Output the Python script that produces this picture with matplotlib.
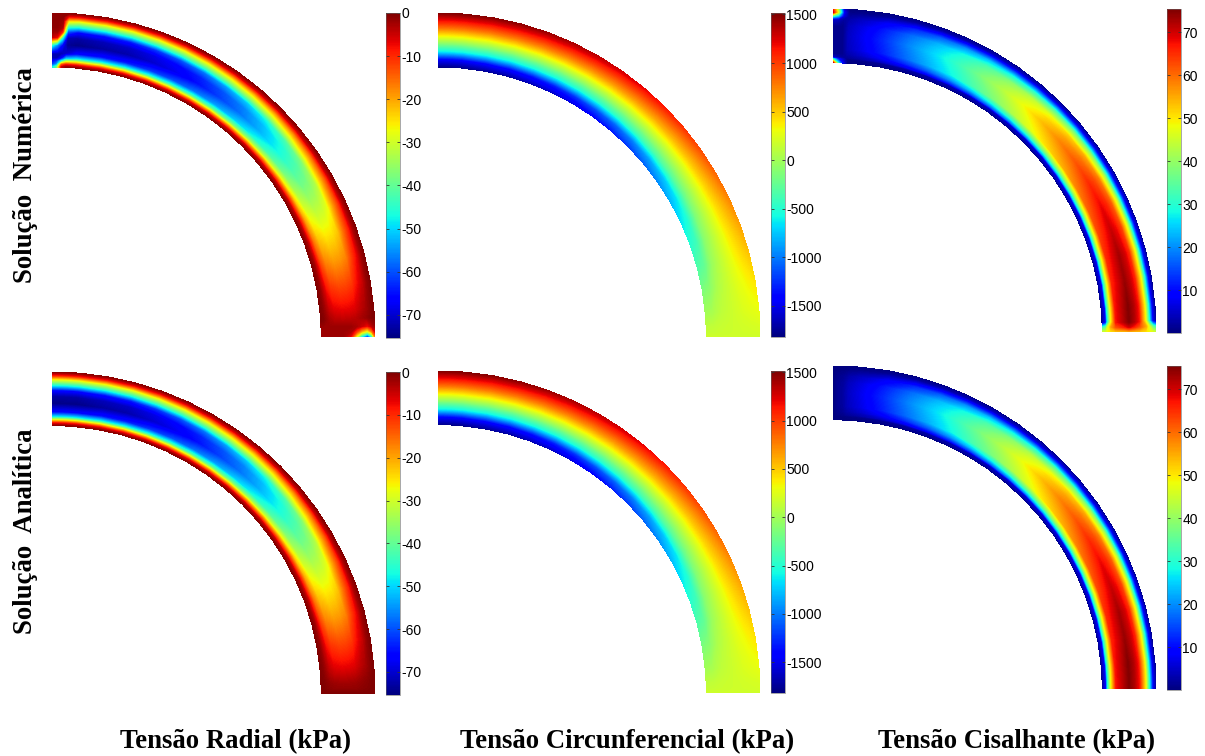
import numpy as np
import matplotlib
matplotlib.use('Agg')
import matplotlib.pyplot as plt
from matplotlib.cm import ScalarMappable
from matplotlib.colors import Normalize

# angle along the ring (deg), 0 = bottom end, 90 = top end
angles = [0, 1, 2, 3.5, 5, 10, 15, 20, 25, 30, 35, 40, 45, 50, 55, 60, 65, 70, 75, 80, 85, 87, 88, 89, 90]
rise = [0, .02, .03, .06, .09, .17, .26, .34, .42, .5, .57, .64, .71, .77, .82, .87, .91, .94, .97, .98, 1, 1, 1, 1, 1]
fall = rise[::-1]

# position across the wall, 0 = inner edge, 1 = outer edge
radial_pos = [0, .05, .106, .16, .25, .41, .55, .66, .75, .86, .94, 1]
radial_vals = [-1, -9, -28, -48, -66, -75, -73, -66, -48, -28, -9, -1]

circ_pos = [0, .14, .29, .43, .575, .72, .86, 1]
circ_end = [170, 170, 170, 170, 170, 170, 170, 170]
circ_vals = [-1800, -1450, -620, -150, 314, 780, 1150, 1500]

shear_pos = [0, .07, .1, .167, .26, .41, .5, .6, .69, .81, .88, .94, 1]
shear_vals = [1, 8, 27, 48, 67, 72, 75, 72, 67, 48, 27, 8, 1]

# numerical solution, rows that differ at the ends of the ring
num_radial_a0 = [-2, -2, -2, -2, -2, -2, -8, -30, -50, -68, -50, -20]
num_radial_a1 = [-2, -2, -2, -2, -2, -2, -3, -12, -22, -30, -18, -6]
num_radial_a2 = [-2, -2, -2, -2, -2, -2, -2, -3, -5, -8, -4, -2]
num_radial_a87 = [-1, -9, -30, -52, -70, -74, -72, -60, -45, -25, -8, -1]
num_radial_a88 = [-5, -15, -45, -66, -72, -66, -45, -10, -3, -2, -1, -1]
num_radial_a89 = [-40, -55, -62, -72, -72, -55, -8, -2, -1, -1, -1, -1]
num_radial_a90 = [-50, -62, -66, -72, -72, -45, -5, -2, -1, -1, -1, -1]

num_shear_a0 = [44, 46, 48, 50, 52, 52, 53, 52, 52, 50, 48, 46, 44]
num_shear_a1 = [30, 35, 45, 55, 62, 66, 70, 66, 62, 55, 45, 35, 30]
num_shear_a88 = [8, 5, 2, 1, 1, 1, 1, 1, 1, 2, 6, 8, 5]
num_shear_a89 = [30, 12, 3, 1, 1, 1, 1, 1, 1, 4, 25, 45, 40]
num_shear_a90 = [70, 30, 5, 1, 1, 1, 1, 1, 1, 5, 35, 70, 65]

# colour ranges and colorbar ticks
radial_range = (-75.4, 0)
circ_range = (-1820, 1515)
shear_range = (0, 75.4)
radial_ticks = [0, -10, -20, -30, -40, -50, -60, -70]
circ_ticks = [1500, 1000, 500, 0, -500, -1000, -1500]
shear_ticks = [70, 60, 50, 40, 30, 20, 10]

col_titles = ['Tensão Radial (kPa)', 'Tensão Circunferencial (kPa)', 'Tensão Cisalhante (kPa)']
row_titles = ['Solução  Numérica', 'Solução  Analítica']

W, H = 1205, 756
plt.rcParams['font.family'] = ['Liberation Sans', 'DejaVu Sans']
plt.rcParams['axes.unicode_minus'] = False
fig = plt.figure(figsize=(W / 100, H / 100), dpi=100)


def box(x0, y0, x1, y1):
    return fig.add_axes([x0 / W, 1 - y1 / H, (x1 - x0) / W, (y1 - y0) / H])


def panel(field, pos, vrange, ticks, ring_box, bar_box):
    ax = box(*ring_box)
    th = np.radians(angles)
    rr = 5 + np.array(pos)
    X = np.outer(rr, np.cos(th))
    Y = np.outer(rr, np.sin(th))
    levels = np.linspace(vrange[0], vrange[1], 256)
    ax.contourf(X, Y, field, levels=levels, cmap='jet', extend='both')
    ax.set_xlim(0, 6)
    ax.set_ylim(0, 6)
    ax.axis('off')

    cax = box(*bar_box)
    sm = ScalarMappable(Normalize(vrange[0], vrange[1]), 'jet')
    cbar = fig.colorbar(sm, cax=cax)
    cbar.set_ticks(ticks)
    cbar.ax.tick_params(direction='in', left=True, right=True, length=2.5, width=.6,
                        labelsize=10, pad=1, color='#333333')
    cbar.outline.set_linewidth(.4)
    cbar.outline.set_edgecolor('#666666')


radial_field = np.outer(radial_vals, rise)
circ_field = np.array(circ_end)[:, None] + np.outer(np.array(circ_vals) - np.array(circ_end), rise)
shear_field = np.outer(shear_vals, fall)

num_radial = radial_field.copy()
num_radial[:, 0] = num_radial_a0
num_radial[:, 1] = num_radial_a1
num_radial[:, 2] = num_radial_a2
num_radial[:, 21] = num_radial_a87
num_radial[:, 22] = num_radial_a88
num_radial[:, 23] = num_radial_a89
num_radial[:, 24] = num_radial_a90

num_shear = shear_field.copy()
num_shear[:, 0] = num_shear_a0
num_shear[:, 1] = num_shear_a1
num_shear[:, 22] = num_shear_a88
num_shear[:, 23] = num_shear_a89
num_shear[:, 24] = num_shear_a90

# top row
panel(num_radial, radial_pos, radial_range, radial_ticks, (52, 13, 375, 337), (386, 13, 400, 338))
panel(circ_field, circ_pos, circ_range, circ_ticks, (438, 13, 760, 337), (771, 13, 785, 337))
panel(num_shear, shear_pos, shear_range, shear_ticks, (833, 9, 1156, 332), (1167, 9, 1181, 333))
# bottom row
panel(radial_field, radial_pos, radial_range, radial_ticks, (52, 372, 375, 694), (386, 372, 400, 695))
panel(circ_field, circ_pos, circ_range, circ_ticks, (438, 371, 760, 693), (771, 371, 785, 693))
panel(shear_field, shear_pos, shear_range, shear_ticks, (833, 366, 1156, 689), (1167, 366, 1181, 690))

serif = dict(family='Liberation Serif', weight='bold', fontsize=19.3, ha='center', va='center')
fig.text(26 / W, 1 - 175 / H, row_titles[0], rotation=90, **serif)
fig.text(26 / W, 1 - 531 / H, row_titles[1], rotation=90, **serif)
fig.text(235.5 / W, 1 - 742 / H, col_titles[0], **serif)
fig.text(627 / W, 1 - 742 / H, col_titles[1], **serif)
fig.text(1017 / W, 1 - 742 / H, col_titles[2], **serif)

plt.savefig('out.png', dpi=100)
